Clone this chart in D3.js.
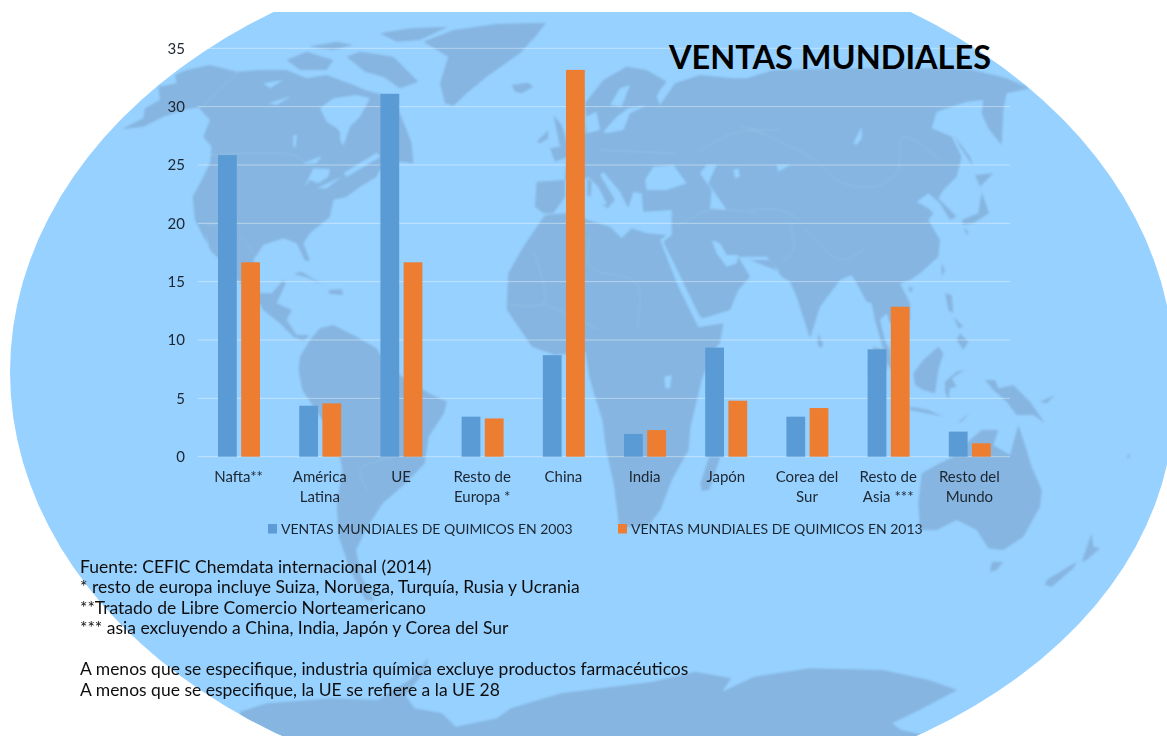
<!DOCTYPE html>
<html><head><meta charset="utf-8">
<script src="https://cdn.jsdelivr.net/npm/d3@7/dist/d3.min.js"></script>
<style>html,body{margin:0;padding:0;background:#fff;overflow:hidden}svg{display:block}text{font-family:Lato,"Open Sans",sans-serif}</style>
</head><body><svg id="c" width="1167" height="736"></svg>
<script>
const categories=[["Nafta**"],["América","Latina"],["UE"],["Resto de","Europa *"],["China"],["India"],["Japón"],["Corea del","Sur"],["Resto de","Asia ***"],["Resto del","Mundo"]];
const ventas2003=[25.85,4.37,31.1,3.43,8.7,1.95,9.35,3.43,9.2,2.15];
const ventas2013=[16.66,4.57,16.66,3.28,33.15,2.28,4.8,4.17,12.85,1.15];
const seriesNames=["VENTAS MUNDIALES DE QUIMICOS EN 2003","VENTAS MUNDIALES DE QUIMICOS EN 2013"];
const seriesColors=["#5b9bd5","#ed7d31"];
const yTicks=[0,5,10,15,20,25,30,35];
const titleText="VENTAS MUNDIALES";
const notes=["Fuente: CEFIC Chemdata internacional (2014)","* resto de europa incluye Suiza, Noruega, Turquía, Rusia y Ucrania","**Tratado de Libre Comercio Norteamericano","*** asia excluyendo a China, India, Japón y Corea del Sur","A menos que se especifique, industria química excluye productos farmacéuticos","A menos que se especifique, la UE se refiere a la UE 28"];

/* decorative background map: outlines traced in crops of the picture */
const crop=(ox,oy,sx)=>a=>a.map(([x,y])=>[ox+x/sx,oy+y/3]);
const C1=crop(120,20,3),C2=crop(500,50,3),C3=crop(740,50,3),C4=crop(860,330,3),C5=crop(240,640,2.178);
const Z1=crop(0,0,2.613),Z3=crop(0,370,2.613),Z4=crop(580,370,2.671);
const landAreas=[
 C1([[5,328],[70,295],[75,265],[120,240],[115,200],[170,190],[165,165],[200,150],[270,135],[350,155],[420,150],[500,150],[560,175],[620,165],[700,195],[735,210],[790,225],[835,225],[835,270],[860,330],[875,370],[880,430],[840,425],[780,450],[770,470],[720,500],[680,530],[640,540],[630,590],[570,640],[550,670],[570,722],[555,722],[530,670],[490,655],[430,675],[400,720],[420,820],[455,820],[490,780],[497,790],[470,850],[515,870],[500,900],[530,945],[570,945],[550,962],[520,950],[480,910],[430,870],[395,810],[350,780],[300,720],[270,690],[245,640],[225,600],[218,530],[240,490],[270,430],[275,380],[250,350],[270,300],[235,262],[190,270],[130,290],[70,320]]),
 C1([[500,120],[560,95],[640,120],[620,150],[540,150]]),
 C1([[565,80],[650,65],[700,75],[640,90]]),
 C1([[680,110],[720,95],[820,110],[895,185],[840,205],[790,170],[735,155]]),
 C1([[780,40],[870,25],[985,20],[900,60],[830,65]]),
 C1([[910,65],[1000,30],[1130,12],[1278,8],[1250,45],[1200,100],[1100,170],[1040,220],[1000,258],[975,250],[960,190],[985,110]]),
 C1([[520,762],[545,755],[610,795],[560,772]]),
 C1([[625,810],[665,808],[670,825],[630,822]]),
 C2([[35,105],[85,98],[100,110],[65,130],[45,125]]),
 C2([[110,275],[145,240],[145,265],[120,280]]),
 C2([[150,295],[180,290],[160,195],[185,225],[205,290],[205,320],[165,335]]),
 [...C1([[570,960],[600,925],[640,915],[700,945],[770,985],[800,1040]]),...Z3([[1120,70],[1168,95],[1160,130],[1120,200],[1110,280],[1060,340],[1000,400],[960,470],[930,540],[945,620],[978,692],[955,690],[915,600],[885,500],[880,400],[895,300],[880,210],[830,130],[790,60],[780,0]]),...C1([[540,1010]])],
 [...C2([[135,495],[200,490],[280,515],[330,530],[365,565],[395,535],[440,550],[500,555],[480,570],[535,710],[595,832],[670,820],[660,880],[640,900]]),...Z4([[325,30],[295,170],[290,240],[245,330],[215,420],[180,470],[105,470],[90,340],[70,240],[60,150],[40,80],[25,20]]),...Z1([[1530,1055],[1450,1065],[1390,1040],[1325,930]]),...C2([[20,770],[25,670],[70,590]])],
 Z4([[375,260],[345,260],[322,340],[325,362],[345,360]]),
 C2([[110,395],[195,390],[195,440],[160,490],[130,490],[105,470]]),
 [...C2([[195,390],[200,320],[255,250],[258,200],[255,160],[310,90],[380,50],[440,60],[500,95],[480,120],[470,140],[480,165],[525,100],[600,75],[700,85]]),...C3([[20,85],[100,60],[300,55],[600,55],[700,60],[800,85],[870,115],[800,130],[790,180],[785,285],[745,235],[725,190],[730,150],[680,155],[590,185],[575,235],[635,260],[665,320],[650,380],[610,420],[595,445],[650,500],[630,510],[600,460],[565,430],[530,455],[565,475],[580,490],[565,510],[600,570],[595,620],[540,670],[510,690],[480,700],[510,760],[510,810],[450,820],[440,790],[420,810],[440,890],[425,880],[405,810],[395,760],[380,755],[350,700],[335,675],[300,690],[240,770],[210,865],[170,740],[150,695],[125,680],[90,630],[30,630]]),...C2([[840,665],[800,620],[715,620],[750,680],[715,720],[690,780],[610,805],[600,800],[490,575],[515,555],[515,480],[430,485],[425,430],[400,425],[385,475],[360,425],[310,365],[300,375],[345,450],[325,470],[295,410],[265,380],[255,385]])],
 C2([[262,385],[275,395],[272,440],[262,435]]),
 C2([[305,465],[330,462],[325,475]]),
 C3([[235,850],[250,885],[240,895],[232,880]]),
 C3([[640,255],[690,320],[700,350],[660,290]]),
 C3([[705,375],[760,370],[720,410]]),
 C3([[725,425],[747,490],[700,520],[670,525],[665,510],[715,490]]),
 C3([[670,530],[685,545],[680,555]]),
 C3([[605,640],[615,660],[605,680]]),
 C3([[505,710],[520,715],[510,730]]),
 C3([[615,730],[635,735],[640,790],[625,780]]),
 C3([[660,850],[685,875],[670,900],[650,870]]),
 C3([[640,800],[670,830],[655,835]]),
 C3([[400,890],[440,900],[440,960],[385,960]]),
 C4([[55,0],[90,60],[95,120],[80,100]]),
 C4([[160,130],[190,90],[235,50],[250,70],[235,120],[225,190],[190,180],[165,165]]),
 C4([[255,155],[290,125],[315,120],[275,145],[290,170],[270,175],[265,210],[255,185]]),
 C4([[375,150],[405,150],[415,175],[460,165],[510,215],[555,280],[520,255],[470,255],[440,215],[400,180]]),
 C4([[540,215],[585,195],[560,220]]),
 C4([[150,230],[205,240],[250,260],[200,250],[150,240]]),
 C4([[295,275],[330,250],[305,275]]),
 C4([[475,285],[495,345],[515,410],[545,480],[540,530],[490,620],[430,660],[385,655],[350,600],[290,570],[230,600],[180,600],[175,520],[185,430],[240,400],[280,380],[330,330],[365,300],[415,300],[400,345],[450,375],[465,320]]),
 C4([[390,725],[395,695],[430,695],[410,720]]),
 C4([[555,765],[560,750],[650,695],[640,715],[575,770]]),
 C4([[665,695],[695,610],[700,650],[720,655],[680,690]]),
 C4([[800,378],[812,372],[806,386]]),
 C5([[0,215],[60,190],[200,175],[300,180],[370,120],[410,55],[405,90],[360,165],[380,205],[440,220],[470,260],[560,235],[590,205],[700,160],[900,125],[990,95],[1070,115],[1050,155],[1120,110],[1240,85],[1400,90],[1500,120],[1562,150],[1480,210],[1420,250],[1440,270],[1500,288],[1500,330],[0,330]])
];
const waterAreas=[
 C1([[600,265],[640,235],[710,225],[750,235],[720,290],[690,320],[670,378],[660,360],[660,335],[650,325],[620,305]]),
 C1([[255,635],[285,750],[265,700]]),
 C1([[430,190],[490,180],[450,205]]),
 C1([[445,250],[515,228],[470,255]]),
 C1([[520,345],[531,345],[526,385],[520,380]]),
 C1([[545,432],[605,408],[590,430]]),
 C1([[553,502],[580,445],[630,448],[625,470],[595,490],[570,480]]),
 C1([[590,505],[665,470],[620,505]]),
 C1([[670,460],[770,398],[782,410],[680,470]]),
 C2([[330,165],[360,115],[390,105],[365,170]]),
 C2([[310,245],[350,200],[385,175],[440,165],[390,190],[370,240],[320,250]]),
 C2([[258,200],[290,185],[300,240],[260,250]]),
 C2([[435,390],[460,350],[520,345],[560,400],[500,420],[440,420]]),
 C2([[600,370],[620,345],[650,345],[625,400],[680,480],[630,475],[635,420]]),
 C2([[700,360],[715,355],[720,380],[705,385]]),
 C2([[635,570],[660,580],[680,615],[715,615],[710,640],[680,650],[650,610]]),
 C3([[340,280],[365,230],[365,265],[350,285]]),
 C3([[110,345],[150,345],[115,365]]),
 Z4([[225,20],[245,15],[240,55],[228,55]]),
 C5([[1,240],[60,288],[0,300]])
];
const borderLines=[
 C1([[245,262],[360,150]]),C1([[270,405],[520,405],[560,430]]),C1([[245,610],[350,640],[400,700]]),
 C3([[0,230],[30,235],[130,280],[210,320],[300,395],[400,410],[470,370],[490,260],[600,330]]),C3([[190,530],[300,630],[380,590]]),C3([[30,480],[120,480],[180,510]]),C3([[150,520],[160,600],[120,640]]),
 C2([[270,560],[270,650],[410,700],[410,840]]),C2([[100,600],[130,760],[20,760]]),C2([[300,300],[530,310]]),C2([[590,310],[700,250],[840,240]]),C2([[530,530],[630,480],[770,490]]),C2([[130,760],[300,840]]),
 Z3([[1030,260],[940,300],[960,360]])
];

const svg=d3.select("#c");
const defs=svg.append("defs");
defs.append("filter").attr("id","soft").append("feGaussianBlur").attr("stdDeviation",0.8);
defs.append("filter").attr("id","softT").attr("x","-5%").attr("y","-20%").attr("width","110%").attr("height","140%").append("feGaussianBlur").attr("stdDeviation",0.35);
const closed=d3.line().curve(d3.curveLinearClosed);
const openLine=d3.line().curve(d3.curveCatmullRom);
const globeOutline=d3.range(0,360,3).map(t=>{const a=t*Math.PI/180;const q=Math.cos(a)>0&&Math.sin(a)>0?16*Math.sin(2*a):0;return [592+582*Math.cos(a)+q,372+430*Math.sin(a)];});
const gMap=svg.append("g");
gMap.append("path").attr("fill","#97d1ff").attr("d",closed(globeOutline));
gMap.append("rect").attr("width",1167).attr("height",12).attr("fill","#fff");
defs.append("clipPath").attr("id","globe").append("path").attr("d",closed(globeOutline));
const gLand=gMap.append("g").attr("clip-path","url(#globe)").append("g").attr("filter","url(#soft)");
gLand.selectAll("path.l").data(landAreas).join("path").attr("class","l").attr("fill","#85b5e0").attr("d",closed);
gLand.selectAll("path.w").data(waterAreas).join("path").attr("class","w").attr("fill","#97d1ff").attr("d",closed);
gLand.selectAll("path.b").data(borderLines).join("path").attr("class","b").attr("fill","none").attr("stroke","#a6d0f2").attr("stroke-opacity",0.55).attr("stroke-width",0.8).attr("d",openLine);

const x=d3.scaleBand().domain(d3.range(categories.length)).range([198,1010]);
const xInner=d3.scaleBand().domain([0,1]).range([20,62]).paddingInner(0.19);
const y=d3.scaleLinear().domain([0,35]).range([456.7,48.3]);
svg.append("g").selectAll("line").data(yTicks).join("line").attr("x1",198).attr("x2",1010)
  .attr("y1",d=>y(d)).attr("y2",d=>y(d)).attr("stroke","#fff").attr("stroke-opacity",0.42).attr("stroke-width",1);

const seriesData=[ventas2003,ventas2013];
const gBars=svg.append("g");
seriesData.forEach((vals,s)=>{
 gBars.selectAll("rect.s"+s).data(vals).join("rect").attr("class","s"+s)
  .attr("x",(d,i)=>x(i)+xInner(s)).attr("width",xInner.bandwidth())
  .attr("y",d=>y(d)).attr("height",d=>y(0)-y(d)).attr("fill",seriesColors[s]);
});

const axisY=svg.append("g").attr("transform","translate(198,0)").attr("filter","url(#softT)")
  .call(d3.axisLeft(y).tickValues(yTicks).tickSize(0).tickPadding(13));
axisY.select(".domain").remove();
axisY.selectAll("text").attr("font-size",15).attr("fill","#1d2731").style("font-family","Lato");

const axisX=svg.append("g").attr("transform","translate(0,456.7)").attr("filter","url(#softT)")
  .call(d3.axisBottom(x).tickSize(0).tickFormat(""));
axisX.select(".domain").remove();
axisX.selectAll(".tick text").each(function(d){
 const t=d3.select(this).attr("y",null).attr("dy",null).attr("text-anchor","middle").attr("font-size",15).attr("fill","#1d2731").style("font-family","Lato");
 categories[d].forEach((ln,i)=>t.append("tspan").attr("x",0).attr("y",25.5+i*19.5).text(ln));
});

const legendX=[268,618];
const legend=svg.append("g").attr("filter","url(#softT)").selectAll("g").data(seriesNames).join("g").attr("transform",(d,i)=>`translate(${legendX[i]},524)`);
legend.append("rect").attr("width",9).attr("height",9.5).attr("fill",(d,i)=>seriesColors[i]);
legend.append("text").attr("x",13).attr("y",9.5).attr("font-size",14).attr("fill","#1d2731").text(d=>d);

svg.append("text").attr("x",669).attr("y",68.5).attr("font-size",32.5).attr("font-weight",700).attr("fill","#000").text(titleText);

const noteY=[573,593,614,634,675,696];
svg.append("g").attr("filter","url(#softT)").selectAll("text").data(notes).join("text")
  .attr("x",80).attr("y",(d,i)=>noteY[i]).attr("font-size",17.5).attr("fill","#111").text(d=>d);
</script></body></html>
